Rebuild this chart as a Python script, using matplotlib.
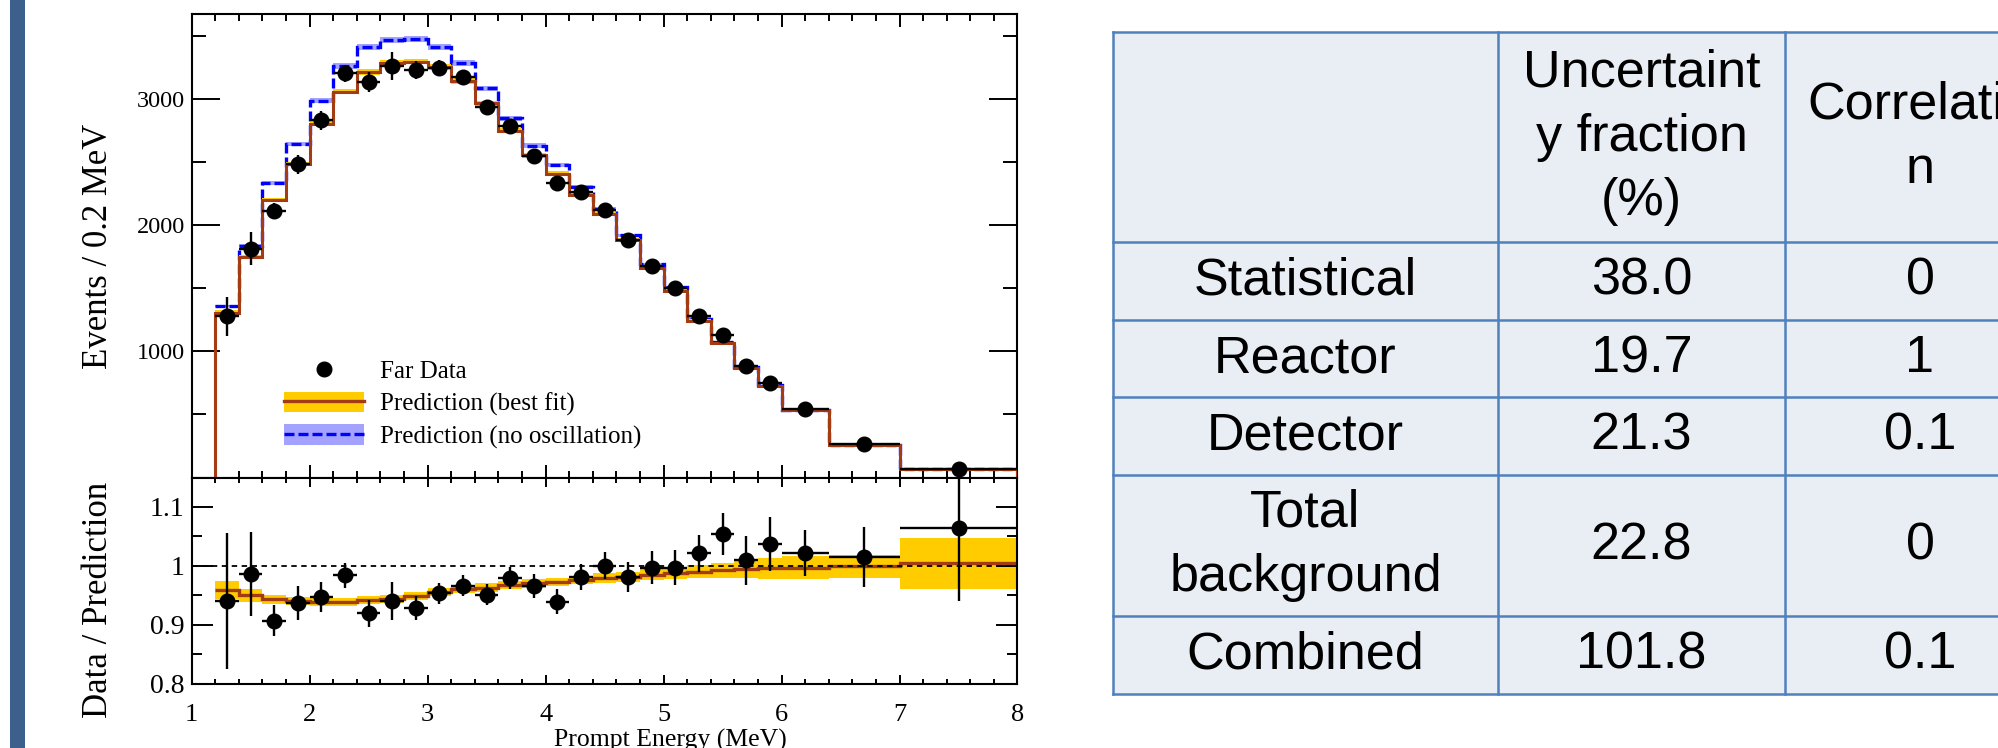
import numpy as np
import matplotlib
matplotlib.use("Agg")
import matplotlib.pyplot as plt
from matplotlib.patches import Rectangle, Patch
from matplotlib.lines import Line2D
from matplotlib.ticker import MultipleLocator, FixedLocator, FixedFormatter

# ---------------------------------------------------------------- data
# prompt-energy bin edges (MeV)
bin_edges = [1.2, 1.4, 1.6, 1.8, 2.0, 2.2, 2.4, 2.6, 2.8, 3.0, 3.2, 3.4, 3.6, 3.8,
             4.0, 4.2, 4.4, 4.6, 4.8, 5.0, 5.2, 5.4, 5.6, 5.8, 6.0, 6.4, 7.0, 8.0]

# events / 0.2 MeV at the far site
far_data = [1278, 1815, 2111, 2484, 2833, 3204, 3138, 3265, 3230, 3249, 3172, 2939,
            2786, 2548, 2336, 2265, 2124, 1881, 1677, 1503, 1280, 1127, 884, 752,
            545, 262, 70]
far_data_err = [157, 130, 63, 77, 75, 68, 78, 110, 69, 60, 59, 56, 54, 53, 52, 51,
                49, 48, 46, 44, 40, 39, 36, 34, 21, 13, 9]
pred_best_fit = [1305, 1748, 2200, 2486, 2805, 3060, 3214, 3290, 3298, 3256, 3145,
                 2966, 2750, 2554, 2410, 2243, 2088, 1880, 1660, 1482, 1244, 1063,
                 867, 722, 532, 257, 66]
pred_no_osc = [1360, 1838, 2336, 2643, 2987, 3262, 3410, 3468, 3474, 3410, 3288,
               3085, 2847, 2630, 2476, 2304, 2130, 1921, 1690, 1511, 1260, 1074,
               876, 730, 534, 258, 66]
no_osc_band_frac = 0.007

# data / prediction (no oscillation)
ratio_data = [0.940, 0.986, 0.907, 0.937, 0.947, 0.984, 0.919, 0.940, 0.928, 0.953,
              0.966, 0.951, 0.979, 0.966, 0.939, 0.981, 1.000, 0.981, 0.997, 0.997,
              1.021, 1.054, 1.009, 1.037, 1.021, 1.015, 1.065]
ratio_err = [0.116, 0.0715, 0.027, 0.029, 0.025, 0.021, 0.023, 0.032, 0.020, 0.0175,
             0.018, 0.018, 0.019, 0.020, 0.021, 0.022, 0.023, 0.025, 0.0275, 0.029,
             0.032, 0.036, 0.041, 0.046, 0.039, 0.051, 0.124]
fit_ratio = [0.959, 0.950, 0.943, 0.940, 0.939, 0.939, 0.942, 0.944, 0.949, 0.955,
             0.960, 0.963, 0.967, 0.970, 0.973, 0.976, 0.979, 0.981, 0.985, 0.988,
             0.990, 0.992, 0.995, 0.996, 0.997, 0.999, 1.004]
fit_ratio_band = [0.0155, 0.011, 0.008, 0.007, 0.007, 0.007, 0.007, 0.007, 0.007,
                  0.007, 0.007, 0.007, 0.007, 0.007, 0.007, 0.007, 0.008, 0.008,
                  0.009, 0.010, 0.011, 0.013, 0.016, 0.018, 0.019, 0.020, 0.044]

# systematic table
row_labels = ["", "Statistical", "Reactor", "Detector", "Total\nbackground", "Combined"]
col_headers = ["Uncertaint\ny fraction\n(%)", "Correlatio\nn"]
fractions = ["38.0", "19.7", "21.3", "22.8", "101.8"]
correlations = ["0", "1", "0.1", "0", "0.1"]

# ---------------------------------------------------------------- style
BROWN = "#A33C12"
GOLD = "#FFCC00"
BLUE = "#0000FF"
LAVENDER = "#A3A3FF"
SERIF = ["Liberation Serif", "DejaVu Serif"]
SANS = ["Liberation Sans", "DejaVu Sans"]
plt.rcParams["font.family"] = SERIF

W, H = 1999, 748
fig = plt.figure(figsize=(W / 100, H / 100), dpi=100)


def box(x0, y0, x1, y1):
    """pixel box (origin top-left) -> figure-fraction rect"""
    return [x0 / W, 1 - y1 / H, (x1 - x0) / W, (y1 - y0) / H]


# overlay in pixel units for the side bar, titles and the table
ov = fig.add_axes([0, 0, 1, 1])
ov.set_xlim(0, W)
ov.set_ylim(H, 0)
ov.axis("off")

ax_top = fig.add_axes(box(191.7, 14, 1017.5, 477.5))
ax_bot = fig.add_axes(box(191.7, 477.5, 1017.5, 683.5), sharex=ax_top)

edges = np.array(bin_edges)
centers = 0.5 * (edges[:-1] + edges[1:])
half_w = 0.5 * np.diff(edges)
best = np.array(pred_best_fit, float)
noosc = np.array(pred_no_osc, float)
band = np.array(fit_ratio_band)
fr = np.array(fit_ratio)

# ---------------------------------------------------------------- upper panel
ax_top.stairs(noosc * (1 + no_osc_band_frac), edges,
              baseline=noosc * (1 - no_osc_band_frac), fill=True,
              color=LAVENDER, lw=0, zorder=1)
ax_top.stairs(noosc, edges, baseline=None, color=BLUE, lw=2.4,
              linestyle=(0, (3.0, 1.2)), zorder=2)
ax_top.stairs(best * (1 + band), edges, baseline=best * (1 - band), fill=True,
              color=GOLD, lw=0, zorder=3)
ax_top.stairs(best, edges, baseline=0, color=BROWN, lw=2.2, zorder=4)
ax_top.plot([1.0, edges[0]], [0, 0], color=BROWN, lw=2.2, zorder=4,
            solid_capstyle="butt")
ax_top.errorbar(centers, far_data, xerr=half_w, yerr=far_data_err, fmt="o",
                color="black", ms=10.5, elinewidth=1.7, capsize=0, zorder=5)

ax_top.set_xlim(1, 8)
ax_top.set_ylim(0, 3675)
ax_top.yaxis.set_major_locator(FixedLocator([1000, 2000, 3000]))
ax_top.yaxis.set_minor_locator(FixedLocator([500, 1500, 2500, 3500]))
ax_top.xaxis.set_major_locator(MultipleLocator(1))
ax_top.xaxis.set_minor_locator(MultipleLocator(0.2))
ax_top.tick_params(which="both", direction="in", top=True, right=True,
                   labelbottom=False, width=1.4, color="black")
ax_top.tick_params(axis="y", which="major", length=20, labelsize=17.5, pad=5)
ax_top.tick_params(axis="y", which="minor", length=10)
ax_top.tick_params(axis="x", which="major", length=9.5)
ax_top.tick_params(axis="x", which="minor", length=5)

h_data = Line2D([], [], marker="o", color="black", ls="none", ms=10.5)
h_fit = (Patch(facecolor=GOLD, edgecolor="none"),
         Line2D([], [], color=BROWN, lw=2.4))
h_noosc = (Patch(facecolor=LAVENDER, edgecolor="none"),
           Line2D([], [], color=BLUE, lw=2.4, linestyle=(0, (3.0, 1.2))))
ax_top.legend([h_data, h_fit, h_noosc],
              ["Far Data", "Prediction (best fit)", "Prediction (no oscillation)"],
              loc="upper left", bbox_to_anchor=(0.1118, 0.2555), frameon=False,
              fontsize=18, handlelength=3.2, handleheight=0.9, handletextpad=0.64,
              labelspacing=0.34, borderpad=0, borderaxespad=0)

# ---------------------------------------------------------------- lower panel
ax_bot.stairs(fr + band, edges, baseline=fr - band, fill=True, color=GOLD,
              lw=0, zorder=1)
ax_bot.stairs(fr, edges, baseline=None, color=BROWN, lw=2.4, zorder=2)
ax_bot.axhline(1.0, color="black", lw=1.3, linestyle=(0, (3, 2.5)), zorder=3)
ax_bot.errorbar(centers, ratio_data, xerr=half_w, yerr=ratio_err, fmt="o",
                color="black", ms=10.5, elinewidth=1.7, capsize=0, zorder=5)

ax_bot.set_ylim(0.8, 1.15)
ax_bot.yaxis.set_major_locator(FixedLocator([0.8, 0.9, 1.0, 1.1]))
ax_bot.yaxis.set_major_formatter(FixedFormatter(["0.8", "0.9", "1", "1.1"]))
ax_bot.yaxis.set_minor_locator(FixedLocator([0.85, 0.95, 1.05, 1.15]))
ax_bot.tick_params(which="both", direction="in", top=True, right=True,
                   width=1.4, color="black")
ax_bot.tick_params(axis="y", which="major", length=15, labelsize=20, pad=5)
ax_bot.tick_params(axis="y", which="minor", length=7.5)
ax_bot.tick_params(axis="x", which="major", length=6.5, labelsize=19, pad=15)
ax_bot.tick_params(axis="x", which="minor", length=3.5)

for a in (ax_top, ax_bot):
    for s in a.spines.values():
        s.set_linewidth(1.5)

# ---------------------------------------------------------------- titles, bar
ov.add_patch(Rectangle((10, 0), 15, H, facecolor="#3D5F8C", edgecolor="none"))
ov.text(99, 246, "Events / 0.2 MeV", rotation=90, ha="center", va="center",
        fontsize=25)
ov.text(99, 600, "Data / Prediction", rotation=90, ha="center", va="center",
        fontsize=25)
ov.text(670, 729, "Prompt Energy (MeV)", ha="center", va="top", fontsize=18.5)

# ---------------------------------------------------------------- table
col_edges = [1113, 1498, 1785, 2055]
row_edges = [32, 242, 320, 397, 475, 616, 694]
LINE = "#4F81BD"
ov.add_patch(Rectangle((col_edges[0], row_edges[0]), col_edges[-1] - col_edges[0],
                       row_edges[-1] - row_edges[0], facecolor="#E9EDF4",
                       edgecolor="none"))
for x in col_edges:
    ov.plot([x, x], [row_edges[0], row_edges[-1]], color=LINE, lw=1.8,
            solid_capstyle="projecting")
for y in row_edges:
    ov.plot([col_edges[0], col_edges[-1]], [y, y], color=LINE, lw=1.8,
            solid_capstyle="projecting")

cx = [(col_edges[i] + col_edges[i + 1]) / 2 for i in range(3)]
cy = [(row_edges[i] + row_edges[i + 1]) / 2 for i in range(6)]
tkw = dict(ha="center", va="center", fontsize=37.5, family=SANS,
           linespacing=1.4, color="black")
for j, lab in enumerate(row_labels):
    ov.text(cx[0], cy[j], lab, **tkw)
ov.text(cx[1], cy[0], col_headers[0], **tkw)
ov.text(cx[2], cy[0], col_headers[1], **tkw)
for j in range(5):
    ov.text(cx[1], cy[j + 1], fractions[j], **tkw)
    ov.text(cx[2], cy[j + 1], correlations[j], **tkw)

fig.savefig("out.png", dpi=100, facecolor="white")
